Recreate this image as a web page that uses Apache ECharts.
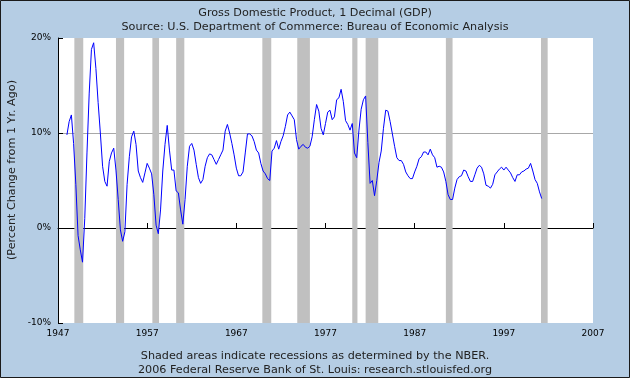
<!DOCTYPE html>
<html>
<head>
<meta charset="utf-8">
<script src="https://cdn.jsdelivr.net/npm/echarts@6/dist/echarts.min.js"></script>
<style>
html,body{margin:0;padding:0;background:#B5CDE4;}
#c{width:630px;height:378px;}
</style>
</head>
<body>
<div id="c"></div>
<script>
// Quarterly series start (first quarter plotted)
var startYear = 1948;
// GDP percent change from 1 year ago, quarterly, 1948Q1 ...
var gdpChange = [
  9.8, 11.2, 11.9, 8.9,      // 1948
  4.6, -0.8, -2.3, -3.6,     // 1949
  1.0, 7.9, 14.2, 18.8,      // 1950
  19.5, 16.8, 13.2, 10.0,    // 1951
  6.5, 4.9, 4.4, 7.0,        // 1952
  7.9, 8.4, 6.1, 3.0,        // 1953
  -0.2, -1.4, -0.4, 4.6,     // 1954
  7.5, 9.6, 10.2, 8.8,       // 1955
  6.0, 5.3, 4.8, 5.8,        // 1956
  6.8, 6.3, 5.7, 3.5,        // 1957
  0.3, -0.6, 1.9, 6.0,       // 1958
  8.8, 10.8, 8.2, 6.1,       // 1959
  6.1, 3.9, 3.7, 1.9,        // 1960
  0.4, 3.0, 6.5, 8.6,        // 1961
  8.9, 8.2, 6.7, 5.3,        // 1962
  4.7, 5.1, 6.5, 7.4,        // 1963
  7.8, 7.7, 7.2, 6.7,        // 1964
  7.2, 7.7, 8.2, 10.2,       // 1965
  10.9, 10.0, 8.9, 7.7,      // 1966
  6.3, 5.5, 5.5, 5.9,        // 1967
  7.9, 9.9, 9.9, 9.7,        // 1968
  9.1, 8.2, 7.9, 6.8,        // 1969
  6.0, 5.7, 5.2, 5.0,        // 1970
  8.1, 8.4, 9.2, 8.3,        // 1971
  9.1, 9.7, 10.7, 11.9,      // 1972
  12.2, 11.8, 11.4, 9.3,     // 1973
  8.3, 8.6, 8.8, 8.5,        // 1974
  8.4, 8.6, 9.6, 11.4,       // 1975
  13.0, 12.3, 10.5, 9.8,     // 1976
  11.0, 12.2, 12.4, 11.4,    // 1977
  11.7, 13.5, 13.7, 14.6,    // 1978
  13.3, 11.3, 10.9, 10.3,    // 1979
  11.0, 7.9, 7.4, 10.3,      // 1980
  12.5, 13.5, 13.9, 9.0,     // 1981
  4.7, 5.0, 3.4, 5.0,        // 1982
  6.9, 8.1, 10.5, 12.4,      // 1983
  12.3, 11.2, 9.9, 8.6,      // 1984
  7.4, 7.1, 7.1, 6.7,        // 1985
  5.9, 5.5, 5.2, 5.2,        // 1986
  5.9, 6.5, 7.3, 7.5,        // 1987
  8.0, 8.0, 7.7, 8.3,        // 1988
  7.7, 7.4, 6.4, 6.5,        // 1989
  6.4, 5.9, 4.9, 3.5,        // 1990
  3.0, 3.0, 4.2, 5.1,        // 1991
  5.4, 5.5, 6.1, 6.0,        // 1992
  5.4, 4.9, 4.9, 5.6,        // 1993
  6.3, 6.6, 6.4, 5.7,        // 1994
  4.5, 4.4, 4.2, 4.6,        // 1995
  5.6, 5.9, 6.2, 6.4,        // 1996
  6.1, 6.4, 6.1, 5.8,        // 1997
  5.3, 4.9, 5.6, 5.6,        // 1998
  5.9, 6.0, 6.2, 6.3,        // 1999
  6.8, 6.0, 5.1, 4.7,        // 2000
  3.8, 3.1                   // 2001
];
// NBER recessions [startYear, startMonth, endYear, endMonth]
var recessions = [
  [1948, 11, 1949, 10],
  [1953, 7, 1954, 5],
  [1957, 8, 1958, 4],
  [1960, 4, 1961, 2],
  [1969, 12, 1970, 11],
  [1973, 11, 1975, 3],
  [1980, 1, 1980, 7],
  [1981, 7, 1982, 11],
  [1990, 7, 1991, 3],
  [2001, 3, 2001, 11]
];
var yTicks = [-10, 0, 10, 20];
var xTicks = [1947, 1957, 1967, 1977, 1987, 1997, 2007];

var seriesData = gdpChange.map(function (v, i) { return [startYear + i / 4, v]; });
var areas = recessions.map(function (r) {
  return [{ xAxis: r[0] + (r[1] - 1) / 12 }, { xAxis: r[2] + r[3] / 12 }];
});

var FONT = 'DejaVu Sans';
var TXT = { fontFamily: FONT, fontSize: 11.2, fontWeight: 'normal', color: '#222' };
var chart = echarts.init(document.getElementById('c'), null, { renderer: 'canvas' });
chart.setOption({
  backgroundColor: '#B5CDE4',
  animation: false,
  title: [
    { text: 'Gross Domestic Product, 1 Decimal (GDP)', left: 'center', top: 3, textStyle: TXT },
    { text: 'Source: U.S. Department of Commerce: Bureau of Economic Analysis', left: 'center', top: 17, textStyle: TXT },
    { text: 'Shaded areas indicate recessions as determined by the NBER.', left: 'center', top: 346, textStyle: TXT },
    { text: '2006 Federal Reserve Bank of St. Louis: research.stlouisfed.org', left: 'center', top: 360, textStyle: TXT }
  ],
  graphic: [
    { type: 'text', x: 12, y: 170, rotation: Math.PI / 2, z: 10,
      style: { text: '(Percent Change from 1 Yr. Ago)', fontFamily: FONT, fontSize: 11.2, fill: '#222',
        align: 'center', verticalAlign: 'middle' } },
    { type: 'rect', shape: { x: 0.5, y: 0.5, width: 629, height: 377 }, z: 10, silent: true,
      style: { fill: 'none', stroke: '#1a1a1a', lineWidth: 1 } }
  ],
  grid: { left: 58, right: 37, top: 38, bottom: 55, show: true, backgroundColor: '#ffffff', borderWidth: 0 },
  xAxis: {
    type: 'value', min: xTicks[0], max: xTicks[xTicks.length - 1], interval: 10,
    axisLine: { show: true, lineStyle: { color: '#000', width: 1 } },
    axisTick: { show: true, inside: true, length: 5, lineStyle: { color: '#000' } },
    axisLabel: { fontFamily: FONT, fontSize: 9, color: '#000', margin: 6,
      formatter: function (v) { return String(v); } },
    splitLine: { show: false }
  },
  yAxis: {
    type: 'value', min: yTicks[0], max: yTicks[yTicks.length - 1], interval: 10,
    axisLine: { show: true, lineStyle: { color: '#000', width: 1 } },
    axisTick: { show: true, inside: true, length: 5, lineStyle: { color: '#000' } },
    axisLabel: { fontFamily: FONT, fontSize: 9, color: '#000', margin: 7,
      formatter: function (v) { return v + '%'; } },
    splitLine: { show: true, showMinLine: false, showMaxLine: false, lineStyle: { color: '#A8A8A8', width: 1 } }
  },
  series: [
    {
      type: 'line', data: [], silent: true, z: 1,
      markArea: { silent: true, itemStyle: { color: '#C0C0C0', opacity: 1 }, data: areas }
    },
    {
      type: 'line', data: seriesData, showSymbol: false, symbol: 'none', z: 5,
      lineStyle: { color: '#0000FF', width: 1 }, smooth: false
    }
  ]
});
</script>
</body>
</html>
